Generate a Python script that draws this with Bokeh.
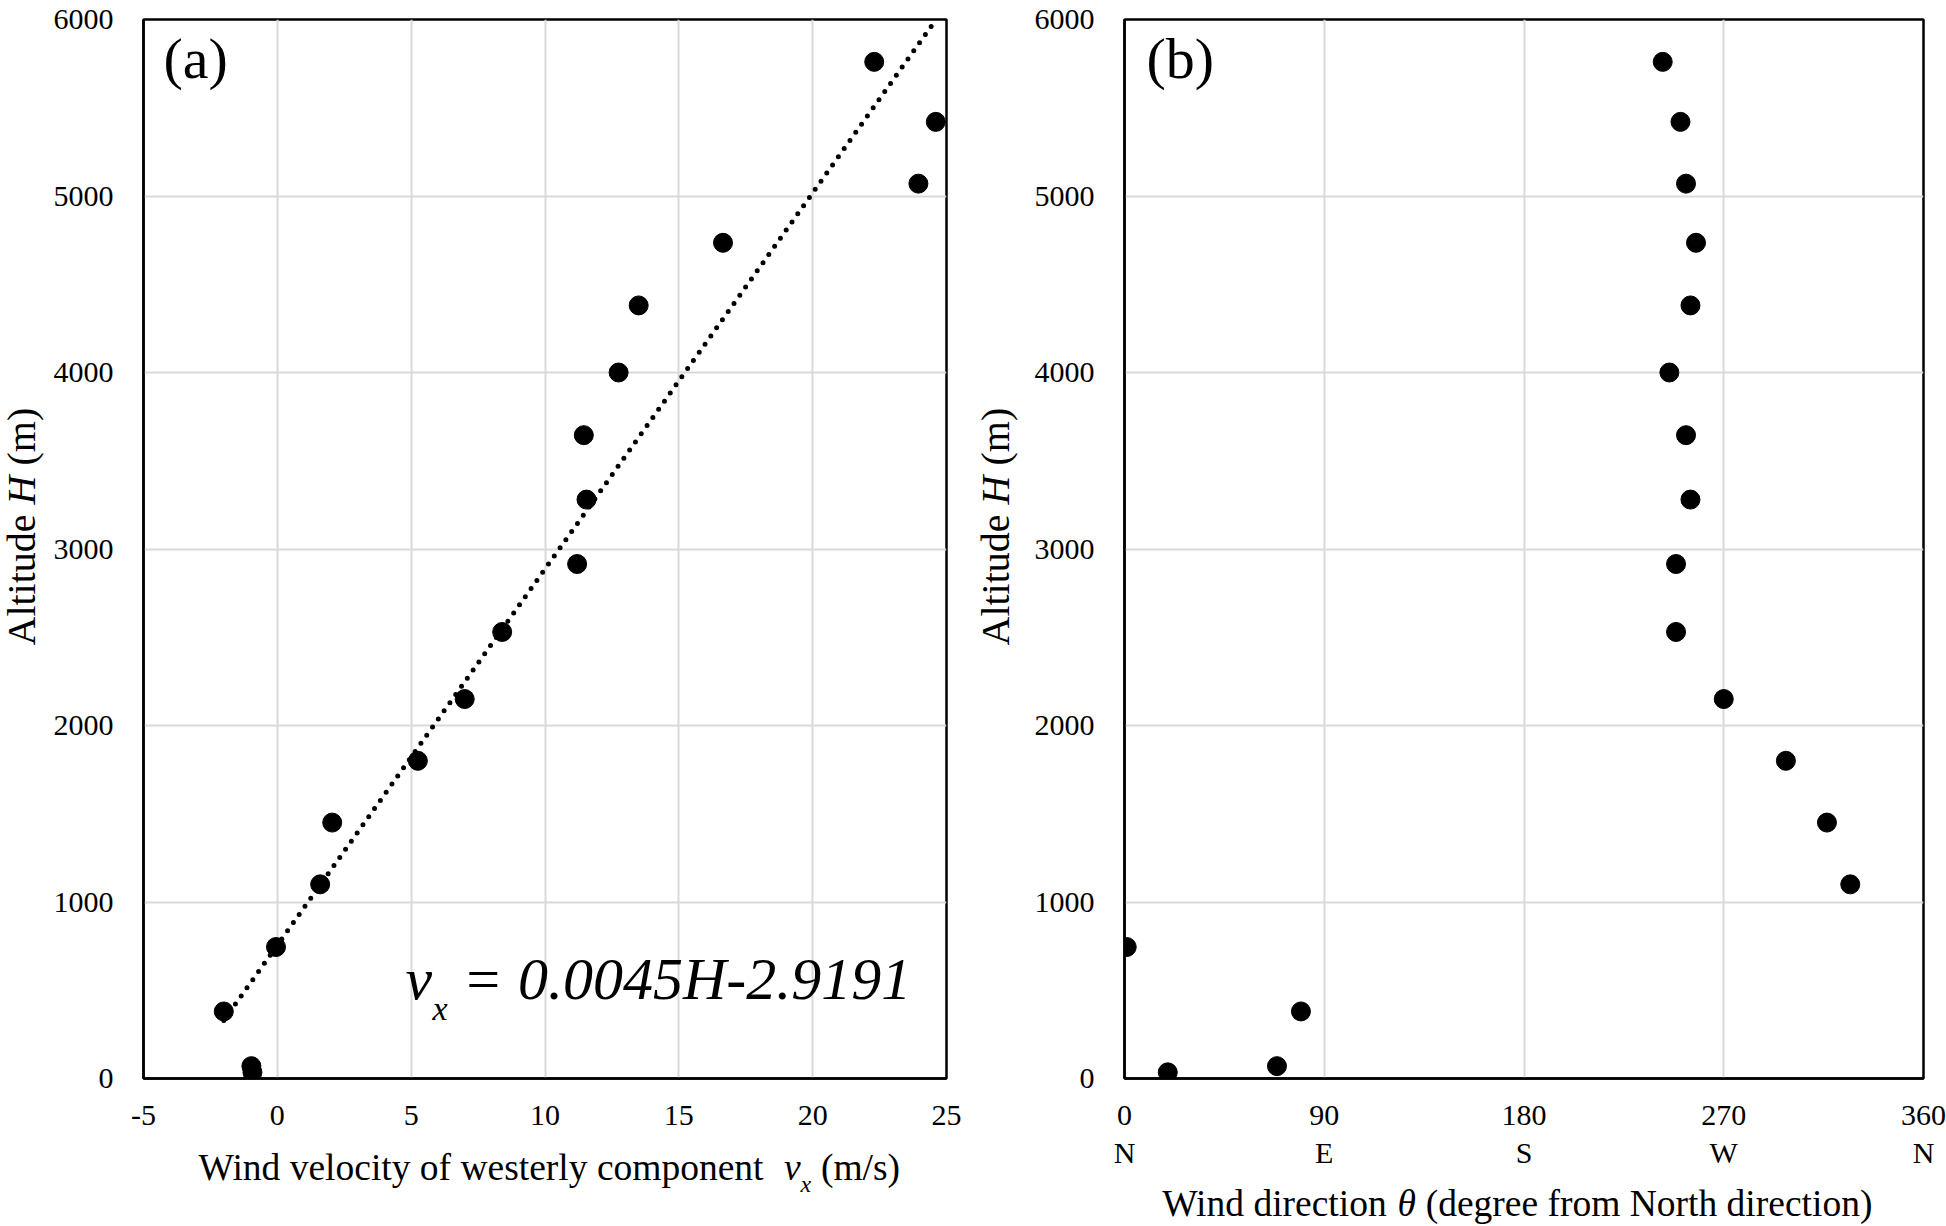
import math
import numpy as np
from bokeh.plotting import figure
from bokeh.models import Range1d, FixedTicker, LinearAxis, Label
from bokeh.layouts import row, column
from bokeh.embed import file_html
from bokeh.resources import INLINE

# ---- data ----
altitude_m = [35, 70, 380, 745, 1100, 1450, 1800, 2150, 2530, 2915,
              3280, 3645, 4000, 4380, 4735, 5070, 5420, 5760]
vx_ms = [-0.93, -0.97, -2.0, -0.05, 1.6, 2.05, 5.25, 7.0, 8.4, 11.2,
         11.55, 11.45, 12.75, 13.5, 16.65, 23.95, 24.6, 22.3]
theta_deg = [19.5, 68.7, 79.5, 1.0, 327.0, 316.5, 298.0, 270.0, 248.5, 248.5,
             255.0, 253.0, 245.5, 255.0, 257.5, 253.0, 250.5, 242.5]

y_ticks = [0, 1000, 2000, 3000, 4000, 5000, 6000]
vx_ticks = [-5, 0, 5, 10, 15, 20, 25]
theta_ticks = [0, 90, 180, 270, 360]
theta_dirs = ["N", "E", "S", "W", "N"]

SERIF = "Liberation Serif"
GRID = "#d9d9d9"
BL = 0.37  # empirical baseline correction (fraction of font size)
FRAME_TOP, FRAME_BOTTOM = 19, 1078


def make_fig(width, height, left, right, bottom, x_range, xticks):
    p = figure(width=width, height=height, x_range=x_range,
               y_range=Range1d(0, 6000), output_backend="svg",
               toolbar_location=None, min_border_left=left,
               min_border_right=right, min_border_top=FRAME_TOP,
               min_border_bottom=bottom, background_fill_color="white",
               border_fill_color="white")
    p.xaxis.ticker = FixedTicker(ticks=xticks)
    p.yaxis.ticker = FixedTicker(ticks=y_ticks)
    for g in (p.xgrid, p.ygrid):
        g.grid_line_color = GRID
        g.grid_line_width = 2
    p.xgrid.ticker = FixedTicker(ticks=xticks)
    p.ygrid.ticker = FixedTicker(ticks=y_ticks)
    for ax in (p.xaxis, p.yaxis):
        ax.axis_line_color = "black"
        ax.axis_line_width = 2.5
        ax.major_tick_line_color = None
        ax.minor_tick_line_color = None
        ax.major_tick_out = 0
        ax.major_tick_in = 0
        ax.major_label_text_font = SERIF
        ax.major_label_text_font_size = "30px"
        ax.major_label_text_color = "black"
    p.xaxis.major_label_standoff = 27
    p.yaxis.major_label_standoff = 30
    p.outline_line_color = "black"
    p.outline_line_width = 2.5
    p.outline_line_alpha = 1.0
    return p


def text_strip(width, height, y_range=None):
    s = figure(width=width, height=height, x_range=Range1d(0, width),
               y_range=y_range if y_range is not None else Range1d(0, height),
               output_backend="svg", toolbar_location=None, min_border=0,
               x_axis_location=None, y_axis_location=None,
               background_fill_color="white", border_fill_color="white")
    s.grid.visible = False
    s.outline_line_color = None
    return s


def lab(p, x, y, text, size, style="normal", angle=0.0, units="data"):
    if angle == 0.0:
        y = y + BL * size
    else:
        x = x - BL * size
    p.add_layout(Label(x=x, y=y, x_units=units, y_units=units,
                       text=text, text_font=SERIF,
                       text_font_size=f"{size}px", text_font_style=style,
                       text_color="black", text_align="left",
                       text_baseline="alphabetic", angle=angle))


def y_title(s, bx):
    # the strip's frame is aligned with the panel frame; y data = -page y
    a = math.pi / 2
    lab(s, bx, -645.0, "Altitude", 40, angle=a)
    lab(s, bx, -503.9, "H", 40, "italic", angle=a)
    lab(s, bx, -465.0, "(m)", 40, angle=a)


# ---- panel (a) ----
pa = make_fig(916, 1145, 95, 18, 67, Range1d(-5, 25), vx_ticks)
pa.xaxis.major_label_overrides = {-5: "-5"}

slope, intercept = np.polyfit(vx_ms, altitude_m, 1)
xs = np.array([min(vx_ms), max(vx_ms)])
pa.line(xs, slope * xs + intercept, line_color="black", line_width=5,
        line_dash="0 10", line_cap="round")
pa.scatter(vx_ms, altitude_m, size=19, color="black")

lab(pa, 20, 999, "(a)", 58, units="screen")
lab(pa, 262, 77, "v", 60, "italic", units="screen")
lab(pa, 289, 57, "x", 34, "italic", units="screen")
lab(pa, 319, 77, "= 0.0045H-2.9191", 60, "italic", units="screen")

yt_a = text_strip(48, 1145, Range1d(-FRAME_BOTTOM, -FRAME_TOP))
y_title(yt_a, 36)

xt_a = text_strip(964, 81)
lab(xt_a, 198, 45, "Wind velocity of westerly component", 37.5)
lab(xt_a, 783.4, 45, "v", 37.5, "italic")
lab(xt_a, 800, 33.3, "x", 24, "italic")
lab(xt_a, 820.4, 45, "(m/s)", 37.5)

# ---- panel (b) ----
pb = make_fig(924, 1181, 102, 23, 103, Range1d(0, 360), theta_ticks)
pb.scatter(theta_deg, altitude_m, size=19, color="black")

dir_axis = LinearAxis(ticker=FixedTicker(ticks=theta_ticks),
                      major_label_overrides={t: d for t, d in zip(theta_ticks, theta_dirs)},
                      axis_line_color=None, major_tick_line_color=None,
                      minor_tick_line_color=None, major_tick_out=0,
                      major_tick_in=0, major_label_standoff=8,
                      major_label_text_font=SERIF,
                      major_label_text_font_size="30px",
                      major_label_text_color="black")
pb.add_layout(dir_axis, "below")

lab(pb, 22, 999, "(b)", 58, units="screen")

yt_b = text_strip(58, 1181, Range1d(-FRAME_BOTTOM, -FRAME_TOP))
y_title(yt_b, 45.3)

xt_b = text_strip(982, 45)
lab(xt_b, 197.7, 9.5, "Wind direction", 37.5)
lab(xt_b, 433.1, 9.5, "\u03b8", 37.5, "italic")
lab(xt_b, 461.2, 9.5, "(degree from North direction)", 37.5)

layout = row(column(row(yt_a, pa), xt_a), column(row(yt_b, pb), xt_b))
open("out.html", "w").write(file_html(layout, INLINE))
